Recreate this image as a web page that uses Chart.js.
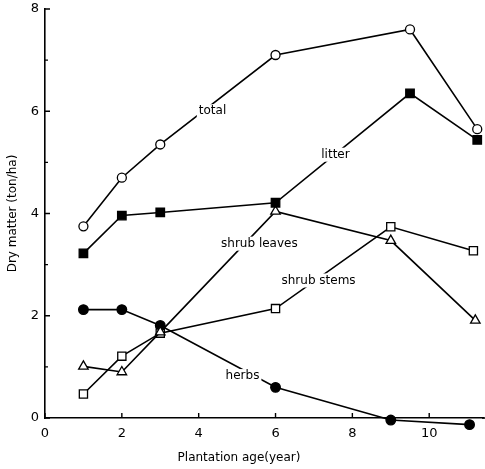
<!DOCTYPE html>
<html>
<head>
<meta charset="utf-8">
<script src="https://cdn.jsdelivr.net/npm/chart.js@4.4.1/dist/chart.umd.min.js"></script>
<style>
  html, body { margin: 0; padding: 0; background: #fff; }
  #wrap { width: 485px; height: 469px; }
</style>
</head>
<body>
<div id="wrap"><canvas id="chart"></canvas></div>
<script>
/* ---------- DATA ---------- */
const ageTotal = [1, 2, 3, 6, 9.5, 11.25];
const total = [3.75, 4.7, 5.35, 7.1, 7.6, 5.65];

const ageLitter = [1, 2, 3, 6, 9.5, 11.25];
const litter = [3.22, 3.96, 4.02, 4.21, 6.35, 5.44];

const ageLeaves = [1, 2, 3, 6, 9, 11.2];
const shrubLeaves = [1.01, 0.9, 1.68, 4.04, 3.47, 1.91];

const ageStems = [1, 2, 3, 6, 9, 11.15];
const shrubStems = [0.47, 1.21, 1.66, 2.14, 3.74, 3.27];

const ageHerbs = [1, 2, 3, 6, 9, 11.05];
const herbs = [2.12, 2.12, 1.81, 0.6, -0.04, -0.13];

const xTicks = [0, 2, 4, 6, 8, 10];
const yTicks = [0, 2, 4, 6, 8];
const yMinorTicks = [1, 3, 5, 7];

// in-plot labels: [text, x, y] in data units
const seriesLabels = [
  ["total", 4.36, 6.0],
  ["litter", 7.56, 5.15],
  ["shrub leaves", 5.58, 3.41],
  ["shrub stems", 7.12, 2.69],
  ["herbs", 5.14, 0.82]
];

const xTitle = "Plantation age(year)";
const yTitle = "Dry matter (ton/ha)";

const FONT = "'DejaVu Sans', sans-serif";

function pairs(xs, ys) {
  return xs.map((x, i) => ({ x: x, y: ys[i] }));
}

function series(xs, ys, style, filled, r) {
  return {
    data: pairs(xs, ys),
    borderColor: "#000",
    borderWidth: 1.6,
    pointStyle: style,
    pointRadius: r,
    pointHoverRadius: 9,   // also widens the area check so points under the axis still draw
    pointBackgroundColor: filled ? "#000" : "#fff",
    pointBorderColor: "#000",
    pointBorderWidth: 1.3,
    tension: 0,
    clip: false
  };
}

/* ---------- INWARD TICKS + LABELS ---------- */
const paperPlugin = {
  id: "paper",
  afterDatasetsDraw(chart) {
    const { ctx, scales } = chart;
    const xs = scales.x, ys = scales.y;
    const x0 = xs.getPixelForValue(0);
    const y0 = ys.getPixelForValue(0);

    ctx.save();
    ctx.strokeStyle = "#000";
    ctx.lineWidth = 1.4;
    ctx.beginPath();
    yTicks.forEach(v => {
      const p = ys.getPixelForValue(v);
      ctx.moveTo(x0, p); ctx.lineTo(x0 + 5, p);
    });
    yMinorTicks.forEach(v => {
      const p = ys.getPixelForValue(v);
      ctx.moveTo(x0, p); ctx.lineTo(x0 + 3, p);
    });
    xTicks.forEach(v => {
      const p = xs.getPixelForValue(v);
      ctx.moveTo(p, y0); ctx.lineTo(p, y0 - 5);
    });
    ctx.stroke();

    // x axis runs out to the edge
    ctx.lineWidth = 1.6;
    ctx.beginPath();
    ctx.moveTo(xs.right - 1, y0);
    ctx.lineTo(chart.width, y0);
    ctx.stroke();

    // labels with white boxes that break the lines
    ctx.font = "12px " + FONT;
    ctx.textAlign = "center";
    ctx.textBaseline = "middle";
    seriesLabels.forEach(([t, vx, vy]) => {
      const px = xs.getPixelForValue(vx);
      const py = ys.getPixelForValue(vy);
      const w = ctx.measureText(t).width;
      ctx.fillStyle = "#fff";
      ctx.fillRect(px - w / 2 - 2, py - 7, w + 4, 14);
      ctx.fillStyle = "#000";
      ctx.fillText(t, px, py);
    });

    // x title (sits left of centre in the original)
    ctx.fillText(xTitle, xs.getPixelForValue(5.05), 458);
    ctx.restore();
  }
};

/* ---------- CHART ---------- */
new Chart(document.getElementById("chart"), {
  type: "line",
  data: {
    datasets: [
      series(ageTotal, total, "circle", false, 4.5),
      series(ageLitter, litter, "rect", true, 6),
      series(ageLeaves, shrubLeaves, "triangle", false, 5.5),
      series(ageStems, shrubStems, "rect", false, 5.8),
      series(ageHerbs, herbs, "circle", true, 4.8)
    ]
  },
  options: {
    responsive: true,
    maintainAspectRatio: false,
    animation: false,
    layout: {
      autoPadding: false,
      padding: { top: 9, right: 2, left: 0, bottom: 0 }
    },
    plugins: {
      legend: { display: false },
      tooltip: { enabled: false }
    },
    scales: {
      x: {
        type: "linear",
        min: 0,
        max: 11.4,
        afterBuildTicks: s => { s.ticks = xTicks.map(v => ({ value: v })); },
        afterFit: s => {
          s.height = 51;
          s.paddingLeft = 0;
          s.paddingRight = 0;
        },
        grid: { display: true, drawOnChartArea: false, drawTicks: false },
        border: { display: true, color: "#000", width: 1.6 },
        ticks: {
          color: "#000",
          padding: 8,
          font: { family: FONT, size: 13 }
        }
      },
      y: {
        min: 0,
        max: 8,
        afterBuildTicks: s => { s.ticks = yTicks.map(v => ({ value: v })); },
        afterFit: s => {
          s.width = 45;
          s.paddingTop = 0;
          s.paddingBottom = 0;
        },
        grid: { display: true, drawOnChartArea: false, drawTicks: false },
        border: { display: true, color: "#000", width: 1.6 },
        ticks: {
          color: "#000",
          padding: 6,
          font: { family: FONT, size: 13 }
        },
        title: {
          display: true,
          text: yTitle,
          color: "#000",
          padding: { top: 6, bottom: 0 },
          font: { family: FONT, size: 12 }
        }
      }
    }
  },
  plugins: [paperPlugin]
});
</script>
</body>
</html>
